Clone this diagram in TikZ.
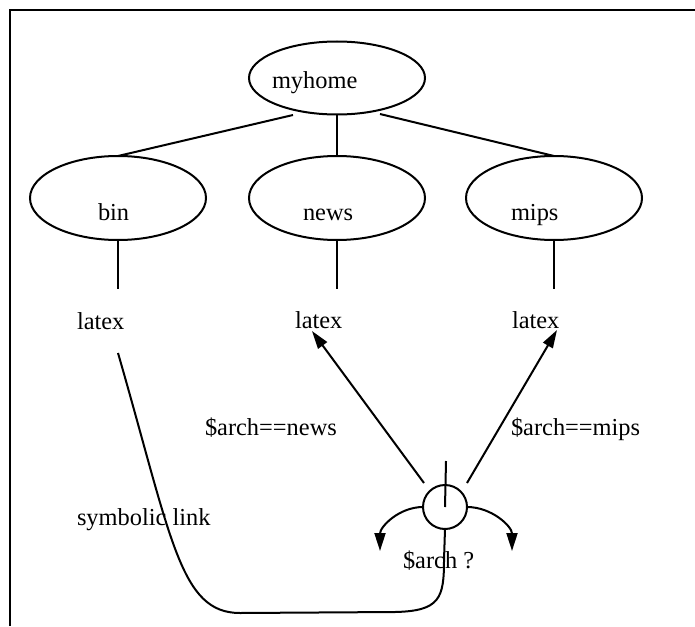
\documentclass[tikz,border=0pt]{standalone}
\usepackage{fontspec}
\setmainfont{Liberation Serif}
\usetikzlibrary{shapes.geometric,arrows.meta}
\begin{document}
\begin{tikzpicture}[x=0.5pt,y=-0.5pt,line width=1pt,
  every node/.style={inner sep=0pt,outer sep=0pt},
  dirbox/.style={draw,ellipse,minimum width=88pt,minimum height=42pt},
  lbl/.style={anchor=base west,font=\fontsize{12.2pt}{14pt}\selectfont},
  tip/.style={-{Triangle[length=9pt,width=5.5pt]}}]
\useasboundingbox (0,0) rectangle (695,626);
% frame
\draw (10,626) -- (10,10) -- (695,10);

% directory tree
\node[dirbox,minimum height=36.5pt] (myhome) at (337,78) {};
\node[dirbox] (bin)  at (118,198) {};
\node[dirbox] (news) at (337,198) {};
\node[dirbox] (mips) at (554,198) {};
\node[lbl] (tmyhome) at (272,89) {myhome};
\node[lbl] (tbin)  at (98,220)  {bin};
\node[lbl] (tnews) at (303,220) {news};
\node[lbl] (tmips) at (511,220) {mips};

\coordinate (hb) at (293,115);
\coordinate (hm) at (380,114);
\draw (hb) -- (bin.north);
\draw (myhome.south) -- (news.north);
\draw (hm) -- (mips.north);

% latex entries
\node[lbl] (lbin)  at (77,329)  {latex};
\node[lbl] (lnews) at (295,328) {latex};
\node[lbl] (lmips) at (512,328) {latex};
\coordinate (eb) at (118,289);
\coordinate (en) at (337,289);
\coordinate (em) at (554,289);
\draw (bin.south) -- (eb);
\draw (news.south) -- (en);
\draw (mips.south) -- (em);

% architecture switch
\node[draw,circle,minimum size=22pt] (sw) at (445,507) {};
\coordinate (swtop) at (446,461);
\draw (swtop) -- (sw.center);
\coordinate (sl) at (424,483);
\coordinate (sr) at (467,483);
\coordinate (an) at (312,331);
\coordinate (am) at (557,330);
\draw[tip] (sl) -- (an);
\draw[tip] (sr) -- (am);
\coordinate (dl) at (380,551);
\coordinate (dr) at (512,551);
\draw[tip] (sw.west) to[out=180,in=90] (dl);
\draw[tip] (sw.east) to[out=0,in=90] (dr);

\node[lbl] (cnews) at (205,435) {\$arch==news};
\node[lbl] (cmips) at (511,435) {\$arch==mips};
\node[lbl] (cq)    at (403,568) {\$arch ?};

% symbolic link
\coordinate (ls) at (118,353);
\draw (ls) .. controls (172,540) and (180,613) .. (240,613)
  -- (395,612) .. controls (440,611) and (444,598) .. (444,560)
  -- (sw.south);
\node[lbl] (csym) at (77,525) {symbolic link};
\end{tikzpicture}
\end{document}
